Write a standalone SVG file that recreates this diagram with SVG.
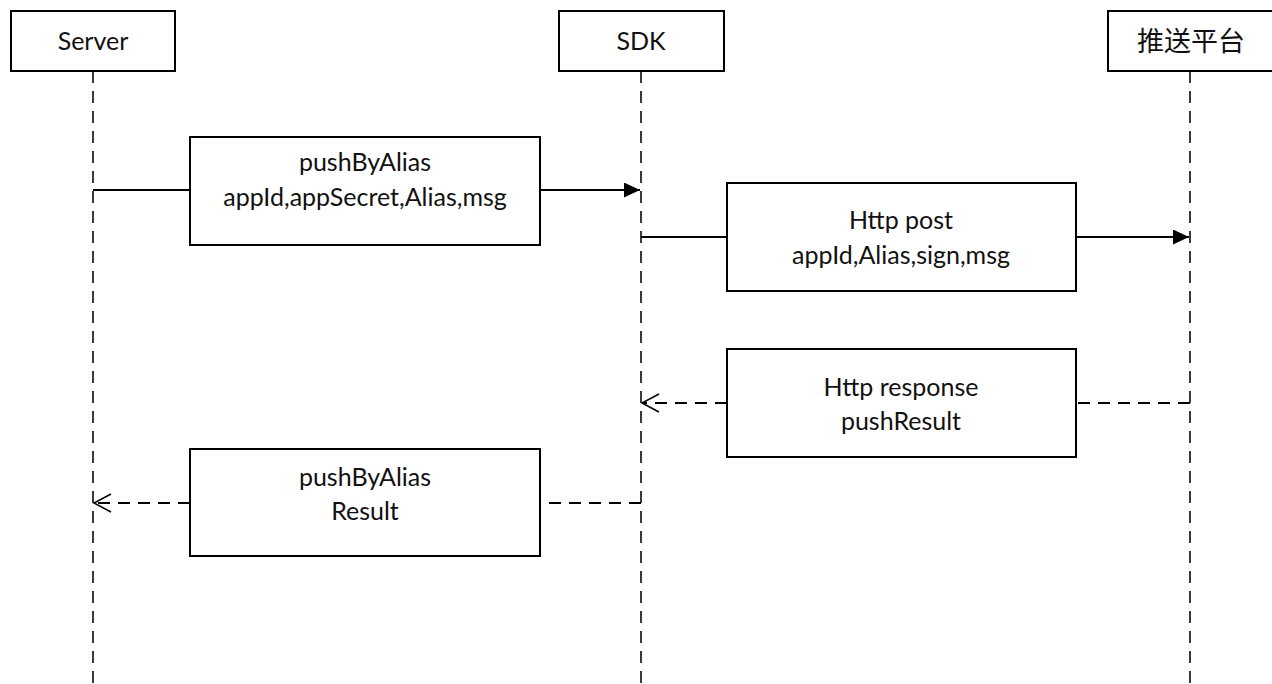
<svg xmlns="http://www.w3.org/2000/svg" width="1272" height="684" viewBox="0 0 1272 684">
<style>
.box{fill:#fff;stroke:#000;stroke-width:2}
.life{stroke:#3a3a3a;stroke-width:2;stroke-dasharray:12 8;fill:none}
.msg{stroke:#000;stroke-width:2;fill:none}
.head{stroke:#000;stroke-width:1.5;fill:none}
.ret{stroke:#000;stroke-width:2;stroke-dasharray:12 8;fill:none}
text{font-family:Lato,"Liberation Sans","Noto Sans CJK SC",sans-serif;font-size:25px;fill:#111;text-anchor:middle}
.cjk{font-family:"Noto Sans CJK SC",sans-serif;font-size:27px}
</style>
<defs>
<marker id="filled" markerWidth="18" markerHeight="16" refX="16" refY="7.5" orient="auto" markerUnits="userSpaceOnUse"><path d="M0,0 L16,7.5 L0,15 Z" fill="#000"/></marker>
</defs>
<g id="lifelines">
<line class="life" x1="93" y1="71" x2="93" y2="684"/>
<line class="life" x1="641" y1="71" x2="641" y2="684"/>
<line class="life" x1="1190" y1="71" x2="1190" y2="684"/>
</g>
<g id="connectors">
<line class="msg" x1="93" y1="190" x2="190" y2="190"/>
<line class="msg" x1="540" y1="190" x2="640" y2="190" marker-end="url(#filled)"/>
<line class="msg" x1="641" y1="237" x2="727" y2="237"/>
<line class="msg" x1="1076" y1="237" x2="1189" y2="237" marker-end="url(#filled)"/>
<line class="ret" x1="1190" y1="403" x2="1076" y2="403"/>
<line class="ret" x1="727" y1="403" x2="642" y2="403"/>
<path class="head" d="M659,394 L642,403 L659,412"/>
<line class="ret" x1="641" y1="503" x2="540" y2="503"/>
<line class="ret" x1="190" y1="503" x2="94" y2="503"/>
<path class="head" d="M111,494 L94,503 L111,512"/>
</g>
<g id="server"><rect class="box" x="11" y="11" width="164" height="60"/><text x="93" y="50">Server</text></g>
<g id="sdk"><rect class="box" x="559" y="11" width="165" height="60"/><text x="641" y="50">SDK</text></g>
<g id="platform"><rect class="box" x="1108" y="11" width="170" height="60"/><text class="cjk" x="1191" y="51">推送平台</text></g>
<g id="msg1"><rect class="box" x="190" y="137" width="350" height="108"/><text x="365" y="171">pushByAlias</text><text x="365" y="206">appId,appSecret,Alias,msg</text></g>
<g id="msg2"><rect class="box" x="727" y="183" width="349" height="108"/><text x="901" y="229">Http post</text><text x="901" y="264">appId,Alias,sign,msg</text></g>
<g id="msg3"><rect class="box" x="727" y="349" width="349" height="108"/><text x="901" y="396">Http response</text><text x="901" y="430">pushResult</text></g>
<g id="msg4"><rect class="box" x="190" y="449" width="350" height="107"/><text x="365" y="486">pushByAlias</text><text x="365" y="520">Result</text></g>
</svg>
